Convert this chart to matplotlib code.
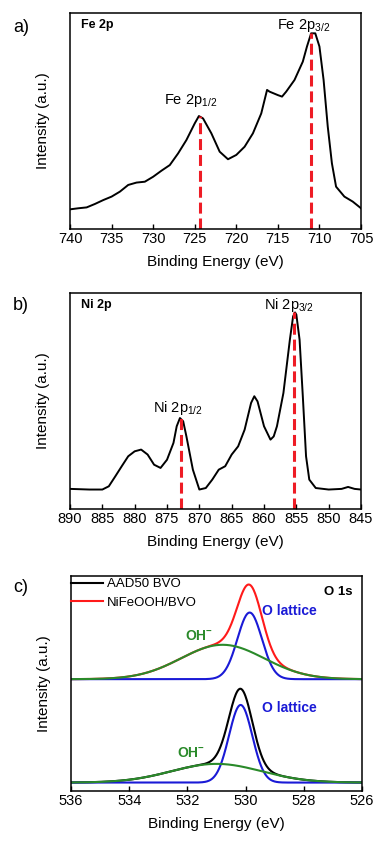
import matplotlib
matplotlib.use("Agg")
import matplotlib.pyplot as plt
import numpy as np

plt.rcParams["font.family"] = ["Liberation Sans", "DejaVu Sans"]
plt.rcParams["mathtext.default"] = "regular"

# Fe 2p spectrum (normalised intensity)
fe_energy = [740, 739, 738, 737, 736, 735, 734, 733, 732, 731, 730, 729, 728, 727,
             726, 725, 724.5, 724, 723, 722, 721, 720, 719, 718, 717, 716.3, 716,
             715, 714.5, 714, 713, 712, 711.5, 711, 710.5, 710, 709.5, 709, 708.5,
             708, 707, 706, 705]
fe_intensity = [0.091, 0.096, 0.100, 0.116, 0.134, 0.150, 0.173, 0.204, 0.215, 0.219,
                0.242, 0.270, 0.296, 0.350, 0.412, 0.489, 0.523, 0.512, 0.443, 0.358,
                0.323, 0.343, 0.381, 0.443, 0.535, 0.644, 0.636, 0.620, 0.613, 0.636,
                0.690, 0.775, 0.845, 0.906, 0.906, 0.845, 0.690, 0.474, 0.304, 0.196,
                0.150, 0.127, 0.096]
fe_peaks = [724.4, 711.0]
fe_peak_tops = [0.523, 0.906]

# Ni 2p spectrum
ni_energy = [890, 887, 885, 884, 883, 882, 881, 880, 879, 878, 877, 876, 875, 874,
             873.5, 873, 872.5, 872, 871, 870, 869, 868, 867, 866, 865, 864, 863,
             862, 861.5, 861, 860, 859, 858.5, 858, 857, 856, 855.5, 855.2, 855,
             854.5, 854, 853.5, 853, 852, 850, 848, 847, 846, 845]
ni_intensity = [0.093, 0.090, 0.090, 0.105, 0.151, 0.198, 0.244, 0.267, 0.275, 0.252,
                0.205, 0.190, 0.228, 0.306, 0.383, 0.421, 0.406, 0.336, 0.182, 0.090,
                0.097, 0.136, 0.182, 0.198, 0.252, 0.290, 0.367, 0.491, 0.522, 0.498,
                0.383, 0.321, 0.336, 0.383, 0.537, 0.784, 0.892, 0.910, 0.900, 0.784,
                0.522, 0.244, 0.136, 0.097, 0.090, 0.093, 0.102, 0.093, 0.090]
ni_peaks = [872.9, 855.3]
ni_peak_tops = [0.421, 0.910]

# O 1s fitted components: baseline, (centre, height, sigma) for lattice O and OH-
o_samples = ["AAD50 BVO", "NiFeOOH/BVO"]
o_baseline = [0.039, 0.520]
o_lattice = [(530.17, 0.361, 0.40), (529.86, 0.310, 0.42)]
o_hydroxyl = [(531.0, 0.087, 1.55), (530.79, 0.160, 1.43)]
o_envelope_color = ["black", "#ff1a1a"]

RED = "#ee1c25"
GREEN = "#2a8a2a"
BLUE = "#1a1ad6"

fig = plt.figure(figsize=(3.75, 8.41), dpi=100)
ax_a = fig.add_axes([0.1867, 0.7277, 0.776, 0.2568])
ax_b = fig.add_axes([0.1867, 0.3948, 0.776, 0.2568])
ax_c = fig.add_axes([0.1893, 0.0595, 0.776, 0.2556])

dash = (0, (3.6, 1.6))

for ax in (ax_a, ax_b, ax_c):
    ax.set_ylim(0, 1)
    ax.set_yticks([])
    ax.tick_params(axis="x", direction="in", length=3.5, width=1, pad=2.5,
                   labelsize=10.5)
    for s in ax.spines.values():
        s.set_linewidth(1.1)
    ax.set_xlabel("Binding Energy (eV)", fontsize=11, labelpad=6)
    ax.set_ylabel("Intensity (a.u.)", fontsize=11)
    ax.yaxis.set_label_coords(-0.07, 0.5)

# a) Fe 2p
ax_a.plot(fe_energy, fe_intensity, color="black", lw=1.4)
for e, top in zip(fe_peaks, fe_peak_tops):
    ax_a.plot([e, e], [0, top], color=RED, lw=2.2, ls=dash)
ax_a.set_xlim(740, 705)
ax_a.set_xticks(np.arange(740, 704, -5))
ax_a.text(0.037, 0.944, "Fe 2p", transform=ax_a.transAxes, fontsize=9,
          fontweight="bold", va="center")
ax_a.text(725.5, 0.579, "Fe 2p$_{1/2}$", fontsize=10.5, ha="center", va="baseline")
ax_a.text(711.9, 0.925, "Fe 2p$_{3/2}$", fontsize=10.5, ha="center", va="baseline")

# b) Ni 2p
ax_b.plot(ni_energy, ni_intensity, color="black", lw=1.4)
for e, top in zip(ni_peaks, ni_peak_tops):
    ax_b.plot([e, e], [0, top], color=RED, lw=2.2, ls=dash)
ax_b.set_xlim(890, 845)
ax_b.set_xticks(np.arange(890, 844, -5))
ax_b.text(0.037, 0.944, "Ni 2p", transform=ax_b.transAxes, fontsize=9,
          fontweight="bold", va="center")
ax_b.text(873.3, 0.45, "Ni 2p$_{1/2}$", fontsize=10.5, ha="center", va="baseline")
ax_b.text(856.1, 0.925, "Ni 2p$_{3/2}$", fontsize=10.5, ha="center", va="baseline")

# c) O 1s
x = np.linspace(536, 526, 600)
for base, lat, oh, col, name in zip(o_baseline, o_lattice, o_hydroxyl,
                                    o_envelope_color, o_samples):
    g_lat = lat[1] * np.exp(-0.5 * ((x - lat[0]) / lat[2]) ** 2)
    g_oh = oh[1] * np.exp(-0.5 * ((x - oh[0]) / oh[2]) ** 2)
    ax_c.plot(x, base + g_lat + g_oh, color=col, lw=1.5, label=name)
    ax_c.plot(x, base + g_lat, color=BLUE, lw=1.5)
    ax_c.plot(x, base + g_oh, color=GREEN, lw=1.5)
ax_c.set_xlim(536, 526)
ax_c.set_xticks(np.arange(536, 525, -2))
ax_c.legend(loc="upper left", bbox_to_anchor=(0.0, 0.99), fontsize=9.5,
            frameon=False, handlelength=2.4, handletextpad=0.3, borderpad=0.0,
            borderaxespad=0.0, labelspacing=0.45)
ax_c.text(0.969, 0.926, "O 1s", transform=ax_c.transAxes, fontsize=9.5,
          fontweight="bold", ha="right", va="center")
ax_c.text(529.43, 0.837, "O lattice", color=BLUE, fontsize=10, fontweight="bold",
          va="center")
ax_c.text(529.42, 0.384, "O lattice", color=BLUE, fontsize=10, fontweight="bold",
          va="center")
ax_c.text(532.09, 0.72, "OH$^{-}$", color=GREEN, fontsize=10, fontweight="bold",
          va="center")
ax_c.text(532.37, 0.178, "OH$^{-}$", color=GREEN, fontsize=10, fontweight="bold",
          va="center")

for label, y in (("a)", 1 - 28 / 841), ("b)", 1 - 306 / 841), ("c)", 1 - 588 / 841)):
    fig.text(0.035, y, label, fontsize=13, va="center")

fig.savefig("out.png", dpi=100, facecolor="white")
